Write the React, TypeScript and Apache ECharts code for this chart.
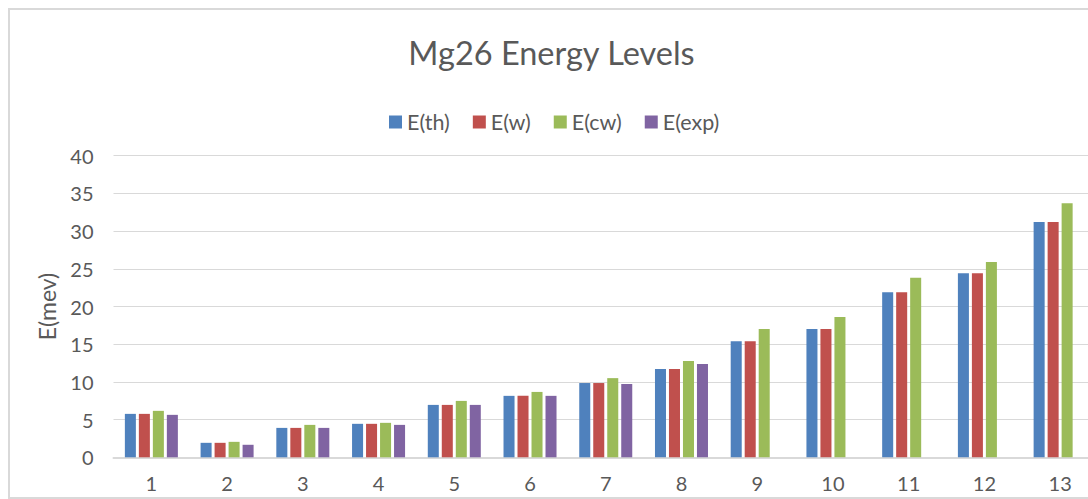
import React, { useEffect, useRef } from "react";
import * as echarts from "echarts";

const categories = ["1", "2", "3", "4", "5", "6", "7", "8", "9", "10", "11", "12", "13"];
const eTh = [5.76, 1.92, 3.9, 4.44, 6.95, 8.15, 9.85, 11.7, 15.4, 17.0, 21.9, 24.4, 31.2];
const eW = [5.76, 1.92, 3.9, 4.44, 6.95, 8.15, 9.85, 11.7, 15.4, 17.0, 21.9, 24.4, 31.2];
const eCw = [6.16, 2.05, 4.3, 4.57, 7.48, 8.67, 10.5, 12.77, 17.0, 18.6, 23.8, 25.9, 33.7];
const eExp = [5.63, 1.66, 3.9, 4.3, 6.95, 8.15, 9.72, 12.37, null, null, null, null, null];
const seriesNames = ["E(th)", "E(w)", "E(cw)", "E(exp)"];
const colors = ["#4F81BD", "#C0504D", "#9BBB59", "#8064A2"];

const FONT = "Lato";

export default function App() {
  const ref = useRef<HTMLDivElement>(null);
  useEffect(() => {
    document.documentElement.style.overflow = "hidden";
    if (!ref.current) return;
    const chart = echarts.init(ref.current, null, { renderer: "svg" });
    const data = [eTh, eW, eCw, eExp];
    chart.setOption({
      animation: false,
      backgroundColor: "#ffffff",
      title: {
        text: "Mg26 Energy Levels",
        left: 536.5,
        top: 21,
        textAlign: "center",
        textStyle: { fontFamily: FONT, fontSize: 32.5, fontWeight: "normal", color: "#595959" },
      },
      legend: {
        data: seriesNames,
        left: 374,
        top: 96,
        icon: "rect",
        itemWidth: 13,
        itemHeight: 13,
        itemGap: 23,
        textStyle: { fontFamily: FONT, fontSize: 21.5, color: "#595959" },
      },
      grid: { left: 103.5, right: 22, top: 145.7, bottom: 39.7, containLabel: false },
      xAxis: {
        type: "category",
        data: categories,
        axisLine: { lineStyle: { color: "#d9d9d9", width: 2 } },
        axisTick: { show: false },
        axisLabel: { fontFamily: FONT, fontSize: 20, color: "#595959", margin: 16 },
      },
      yAxis: {
        type: "value",
        min: 0,
        max: 40,
        interval: 5,
        name: "E(mev)",
        nameLocation: "middle",
        nameGap: 55,
        nameTextStyle: { fontFamily: FONT, fontSize: 23, color: "#595959" },
        axisLine: { show: false },
        axisTick: { show: false },
        splitLine: { lineStyle: { color: "#d9d9d9", width: 1 } },
        axisLabel: { fontFamily: FONT, fontSize: 20, color: "#595959", margin: 20 },
      },
      series: seriesNames.map((name, i) => ({
        name,
        type: "bar",
        data: data[i],
        itemStyle: { color: colors[i] },
        barGap: "27%",
        barCategoryGap: "30%",
      })),
    });
    return () => chart.dispose();
  }, []);
  return (
    <div
      style={{
        position: "fixed",
        left: 8,
        top: 8,
        right: 0,
        bottom: 0,
        overflow: "hidden",
      }}
    >
      <div style={{ width: 1110, height: 487, border: "2px solid #d9d9d9", background: "#fff" }}>
        <div ref={ref} style={{ width: 1110, height: 487 }} />
      </div>
    </div>
  );
}
